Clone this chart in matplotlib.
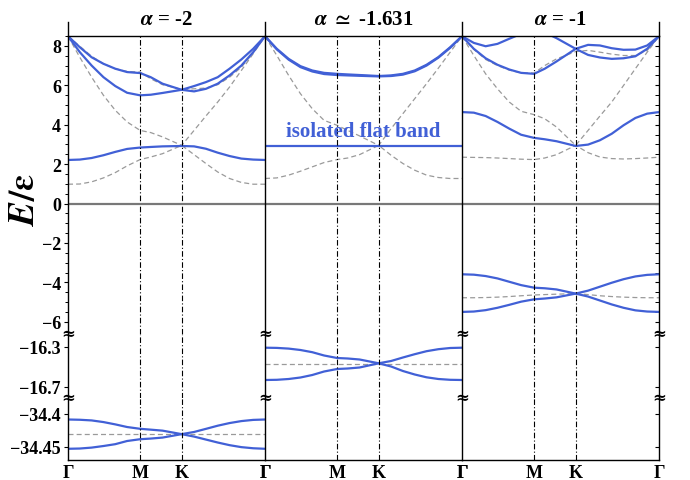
import matplotlib
matplotlib.use("Agg")
import matplotlib.pyplot as plt
from matplotlib.lines import Line2D
from matplotlib.ticker import MultipleLocator, FixedLocator

plt.rcParams['font.family'] = ['Liberation Serif', 'DejaVu Serif']
plt.rcParams['font.weight'] = 'bold'
plt.rcParams['mathtext.fontset'] = 'stix'

# path coordinate along Gamma - M - K - Gamma (0..1)
k_M = 0.366
k_K = 0.577
k = [0, 0.06, 0.12, 0.18, 0.24, 0.30, k_M, 0.42, 0.48, k_K, 0.64, 0.70, 0.76, 0.82, 0.88, 0.94, 1.0]
k_labels = ['Γ', 'M', 'K', 'Γ']

titles = [r'$\boldsymbol{\alpha}$ = -2', r'$\boldsymbol{\alpha}\ \simeq$ -1.631', r'$\boldsymbol{\alpha}$ = -1']

# ---- alpha = -2 ----
a1_blue_1 = [8.49, 7.93, 7.42, 7.09, 6.84, 6.67, 6.62, 6.41, 6.08, 5.77, 5.69, 5.82, 6.08, 6.50, 7.00, 7.68, 8.49]
a1_blue_2 = [8.49, 7.68, 7.00, 6.41, 5.96, 5.62, 5.49, 5.52, 5.61, 5.77, 5.96, 6.16, 6.41, 6.84, 7.31, 7.85, 8.49]
a1_blue_3 = [2.21, 2.23, 2.31, 2.45, 2.62, 2.77, 2.84, 2.87, 2.90, 2.92, 2.90, 2.78, 2.58, 2.41, 2.28, 2.23, 2.21]
a1_blue_4 = [-34.4086, -34.4090, -34.4100, -34.4125, -34.4160, -34.4200, -34.4227, -34.4240, -34.4255, -34.4308,
             -34.4275, -34.4228, -34.4180, -34.4140, -34.4110, -34.4092, -34.4086]
a1_blue_5 = [-34.4530, -34.4526, -34.4512, -34.4488, -34.4460, -34.4412, -34.4385, -34.4375, -34.4360, -34.4308,
             -34.4345, -34.4390, -34.4435, -34.4475, -34.4505, -34.4522, -34.4530]
a1_dash_1 = [0.98, 0.99, 1.10, 1.30, 1.57, 1.91, 2.23, 2.36, 2.53, 2.95, 2.48, 2.03, 1.60, 1.27, 1.07, 0.98, 0.98]
a1_dash_2 = [8.49, 7.42, 6.41, 5.49, 4.73, 4.14, 3.71, 3.60, 3.38, 2.95, 3.71, 4.44, 5.15, 5.91, 6.75, 7.60, 8.49]
a1_dash_3 = [8.49, 7.98, 7.47, 7.09, 6.84, 6.70, 6.67, 6.33, 6.03, 5.79, 5.82, 5.86, 6.03, 6.41, 6.92, 7.65, 8.49]
a1_dash_4 = [-34.431] * 17

# ---- alpha = -1.631 ----
a2_blue_1 = [8.49, 7.85, 7.34, 6.97, 6.75, 6.63, 6.58, 6.55, 6.52, 6.47, 6.50, 6.58, 6.75, 7.04, 7.43, 7.93, 8.49]
a2_blue_2 = [8.49, 7.82, 7.30, 6.92, 6.70, 6.57, 6.52, 6.50, 6.48, 6.45, 6.47, 6.54, 6.71, 7.00, 7.40, 7.90, 8.49]
a2_blue_3 = [2.94] * 17
a2_blue_4 = [-16.307, -16.309, -16.316, -16.330, -16.352, -16.385, -16.410, -16.415, -16.425, -16.463,
             -16.440, -16.405, -16.372, -16.342, -16.322, -16.310, -16.307]
a2_blue_5 = [-16.630, -16.628, -16.620, -16.605, -16.580, -16.545, -16.520, -16.515, -16.505, -16.463,
             -16.495, -16.540, -16.575, -16.603, -16.620, -16.628, -16.630]
a2_dash_1 = [1.27, 1.30, 1.44, 1.64, 1.86, 2.08, 2.23, 2.31, 2.48, 2.95, 2.45, 2.03, 1.69, 1.44, 1.32, 1.27, 1.27]
a2_dash_2 = [8.49, 7.51, 6.50, 5.57, 4.81, 4.22, 3.97, 3.71, 3.43, 2.95, 3.80, 4.56, 5.32, 6.08, 6.87, 7.68, 8.49]
a2_dash_3 = [8.49, 7.84, 7.32, 6.95, 6.73, 6.60, 6.55, 6.53, 6.50, 6.46, 6.49, 6.56, 6.73, 7.02, 7.42, 7.92, 8.49]
a2_dash_4 = [-16.465] * 17

# ---- alpha = -1 ----
a3_blue_1 = [8.49, 7.85, 7.37, 7.04, 6.80, 6.63, 6.58, 6.84, 7.21, 7.85, 8.05, 8.02, 7.88, 7.80, 7.81, 8.02, 8.49]
a3_blue_2 = [8.49, 8.15, 7.98, 8.10, 8.36, 8.61, 8.75, 8.68, 8.39, 7.85, 7.54, 7.41, 7.34, 7.37, 7.47, 7.85, 8.49]
a3_blue_3 = [4.64, 4.61, 4.44, 4.14, 3.80, 3.49, 3.33, 3.26, 3.16, 2.92, 2.99, 3.21, 3.54, 3.97, 4.34, 4.56, 4.64]
a3_blue_4 = [-3.59, -3.61, -3.68, -3.80, -3.97, -4.14, -4.27, -4.30, -4.36, -4.57, -4.42, -4.22, -4.02, -3.84, -3.70, -3.62, -3.59]
a3_blue_5 = [-5.50, -5.48, -5.41, -5.29, -5.14, -4.98, -4.86, -4.82, -4.76, -4.57, -4.72, -4.92, -5.12, -5.29, -5.42, -5.48, -5.50]
a3_dash_1 = [2.35, 2.34, 2.33, 2.31, 2.28, 2.25, 2.23, 2.31, 2.48, 2.95, 2.58, 2.36, 2.28, 2.26, 2.28, 2.31, 2.35]
a3_dash_2 = [8.49, 7.51, 6.58, 5.82, 5.15, 4.68, 4.51, 4.30, 3.88, 2.95, 3.71, 4.44, 5.15, 5.99, 6.84, 7.68, 8.49]
a3_dash_3 = [8.49, 7.82, 7.31, 7.00, 6.77, 6.63, 6.62, 7.00, 7.34, 7.71, 7.77, 7.68, 7.58, 7.51, 7.51, 7.77, 8.49]
a3_dash_4 = [-4.78, -4.78, -4.77, -4.75, -4.72, -4.68, -4.64, -4.62, -4.60, -4.57, -4.62, -4.68, -4.72, -4.75, -4.77, -4.78, -4.78]

blue_sets = [
    [a1_blue_1, a1_blue_2, a1_blue_3, a1_blue_4, a1_blue_5],
    [a2_blue_1, a2_blue_2, a2_blue_3, a2_blue_4, a2_blue_5],
    [a3_blue_1, a3_blue_2, a3_blue_3, a3_blue_4, a3_blue_5],
]
dash_sets = [
    [a1_dash_1, a1_dash_2, a1_dash_3, a1_dash_4],
    [a2_dash_1, a2_dash_2, a2_dash_3, a2_dash_4],
    [a3_dash_1, a3_dash_2, a3_dash_3, a3_dash_4],
]

# broken y axis: three segments
row_lims = [(-6.62, 8.5), (-16.81, -16.17), (-34.47, -34.376)]
row_ticks = [[8, 6, 4, 2, 0, -2, -4, -6], [-16.3, -16.7], [-34.4, -34.45]]
row_ticklabels = [['8', '6', '4', '2', '0', '−2', '−4', '−6'], ['−16.3', '−16.7'], ['−34.4', '−34.45']]

blue = '#4160d6'
gray = '#9a9a9a'

fig = plt.figure(figsize=(6.9, 4.81), dpi=100)
gs = fig.add_gridspec(3, 3, height_ratios=[298, 64, 62], hspace=0, wspace=0,
                      left=68 / 690, right=659 / 690, top=1 - 37 / 481, bottom=1 - 461 / 481)

axes = [[fig.add_subplot(gs[r, c]) for c in range(3)] for r in range(3)]

for r in range(3):
    for c in range(3):
        ax = axes[r][c]
        ax.set_xlim(0, 1)
        ax.set_ylim(*row_lims[r])
        for sp in ax.spines.values():
            sp.set_linewidth(1.0)
            sp.set_color('black')
        ax.spines['top'].set_visible(r == 0)
        ax.spines['bottom'].set_visible(r == 2)
        ax.spines['right'].set_visible(c == 2)
        ax.spines['left'].set_visible(True)

        for yv in dash_sets[c]:
            ax.plot(k, yv, color=gray, lw=0.9, dashes=(4, 2.5))
        for yv in blue_sets[c]:
            ax.plot(k, yv, color=blue, lw=1.6, solid_capstyle='butt', solid_joinstyle='round')
        for xv in (k_M, k_K):
            ax.axvline(xv, color='black', lw=0.8, dashes=(5, 2, 1, 2))
        if r == 0:
            ax.axhline(0, color='#787878', lw=1.6)

        # x ticks
        if r == 2:
            ax.set_xticks([0, k_M, k_K, 1])
            ax.set_xticklabels(k_labels, fontsize=13, fontweight='bold')
            ax.tick_params(axis='x', length=0, pad=3)
        else:
            ax.set_xticks([])

        # y ticks
        if c == 0:
            ax.yaxis.set_major_locator(FixedLocator(row_ticks[r]))
            ax.set_yticklabels(row_ticklabels[r], fontsize=13, fontweight='bold')
            ax.tick_params(axis='y', direction='out', length=3, width=0.8, pad=2)
            if r == 0:
                ax.yaxis.set_minor_locator(MultipleLocator(0.5))
                ax.tick_params(axis='y', which='minor', direction='out', length=2.5, width=0.7)
        elif c == 2:
            ax.yaxis.tick_right()
            ax.yaxis.set_major_locator(FixedLocator(row_ticks[r]))
            ax.tick_params(axis='y', which='both', direction='in', length=3, width=0.8, labelright=False)
            if r == 0:
                ax.yaxis.set_minor_locator(MultipleLocator(0.5))
                ax.tick_params(axis='y', which='minor', direction='in', length=3, width=0.7)
        else:
            ax.set_yticks([])

axes[0][1].text(0.5, 3.66, 'isolated flat band', color=blue, fontsize=15, fontweight='bold',
                ha='center', va='center')

# column titles and separators rising above the frame
for c in range(3):
    pos = axes[0][c].get_position()
    fig.text((pos.x0 + pos.x1) / 2, 1 - 20 / 481, titles[c], fontsize=15, fontweight='bold',
             ha='center', va='center')
    fig.add_artist(Line2D([pos.x0, pos.x0], [pos.y1, 1 - 23 / 481], color='black', lw=1.0))
pos = axes[0][2].get_position()
fig.add_artist(Line2D([pos.x1, pos.x1], [pos.y1, 1 - 23 / 481], color='black', lw=1.0))

# break marks
xs = [axes[0][c].get_position().x0 for c in range(3)] + [axes[0][2].get_position().x1]
for r in (0, 1):
    yb = axes[r][0].get_position().y0
    for xb in xs:
        fig.text(xb, yb, '≈', fontsize=12, ha='center', va='center', family='DejaVu Serif')

fig.text(0.037, 1 - 200 / 481, r'$\boldsymbol{E/\varepsilon}$', fontsize=26, rotation=90,
         ha='center', va='center')

fig.savefig('out.png', dpi=100)
